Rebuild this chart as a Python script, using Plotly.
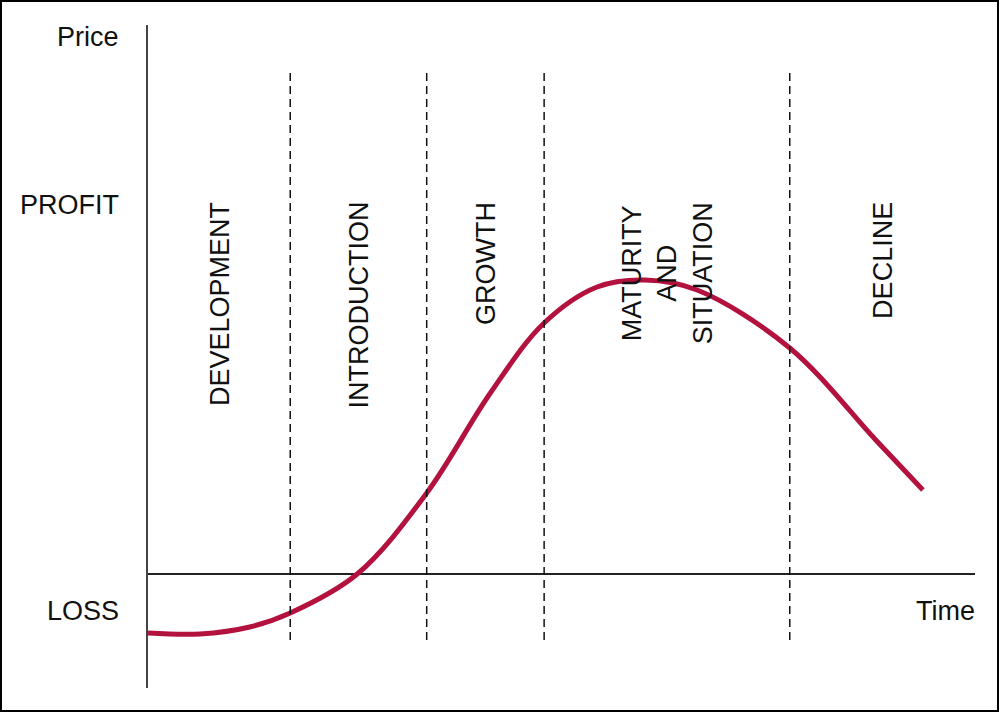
import plotly.graph_objects as go

# Product life-cycle curve (time units 0..100, profit units; 0 = break-even)
time_vals = [0.0, 6.3, 12.3, 17.2, 25.3, 33.7, 41.4, 47.9, 54.3, 60.1, 66.4, 77.6, 88.0, 93.7]
profit_vals = [-5.9, -6.0, -5.3, -3.9, 0.0, 8.1, 18.1, 25.1, 28.7, 29.4, 28.4, 22.6, 13.4, 8.4]

stage_bounds = [17.2, 33.7, 47.9, 77.6]
stage_names = ["DEVELOPMENT", "INTRODUCTION", "GROWTH", "MATURITY<br>AND<br>SITUATION", "DECLINE"]
stage_label_x = [8.7, 25.4, 40.8, 62.8, 88.8]

y_labels = ["Price", "PROFIT", "LOSS"]
y_label_pos = [53.7, 36.9, -3.7]

X_RANGE = [0, 100]
Y_RANGE = [-11.4, 54.9]

fig = go.Figure()
fig.add_trace(go.Scatter(
    x=time_vals, y=profit_vals, mode="lines",
    line=dict(color="#B3123F", width=5, shape="spline", smoothing=1.0),
    hoverinfo="skip", showlegend=False,
))

for b in stage_bounds:
    fig.add_shape(type="line", xref="x", yref="y", x0=b, x1=b, y0=-6.6, y1=50.1,
                  line=dict(color="#111111", width=1.5, dash="8px,5px"))

font = dict(family="Liberation Sans, Arial, sans-serif", size=27, color="#111111")

for name, xv in zip(stage_names, stage_label_x):
    fig.add_annotation(x=xv, y=37.4, xref="x", yref="y", text=name, textangle=-90,
                       showarrow=False, xanchor="center", yanchor="top",
                       align="center", font=font)

for lab, yv in zip(y_labels, y_label_pos):
    fig.add_annotation(x=0, y=yv, xref="x", yref="y", text=lab, showarrow=False,
                       xanchor="right", yanchor="middle", xshift=-27, font=font)

fig.add_annotation(x=100, y=-3.7, xref="x", yref="y", text="Time", showarrow=False,
                   xanchor="right", yanchor="middle", xshift=2, font=font)

# outer frame of the image
fig.add_shape(type="rect", xref="paper", yref="paper",
              x0=(1 - 148) / 827, x1=(998 - 148) / 827,
              y0=(688 - 711) / 663, y1=(688 - 1) / 663,
              line=dict(color="black", width=2), fillcolor="rgba(0,0,0,0)")

fig.update_layout(
    width=1000, height=714,
    margin=dict(l=148, r=25, t=25, b=26),
    paper_bgcolor="white", plot_bgcolor="white",
    xaxis=dict(range=X_RANGE, showgrid=False, zeroline=False, showticklabels=False,
               ticks="", showline=False, fixedrange=True),
    yaxis=dict(range=Y_RANGE, showgrid=False, zeroline=True, zerolinecolor="#222222",
               zerolinewidth=1.5, showticklabels=False, ticks="",
               showline=True, linecolor="#444444", linewidth=2, fixedrange=True),
)

fig.write_html("out.html", config={"displayModeBar": False},
               post_script="document.body.style.margin='0px';document.body.style.overflow='hidden';")
